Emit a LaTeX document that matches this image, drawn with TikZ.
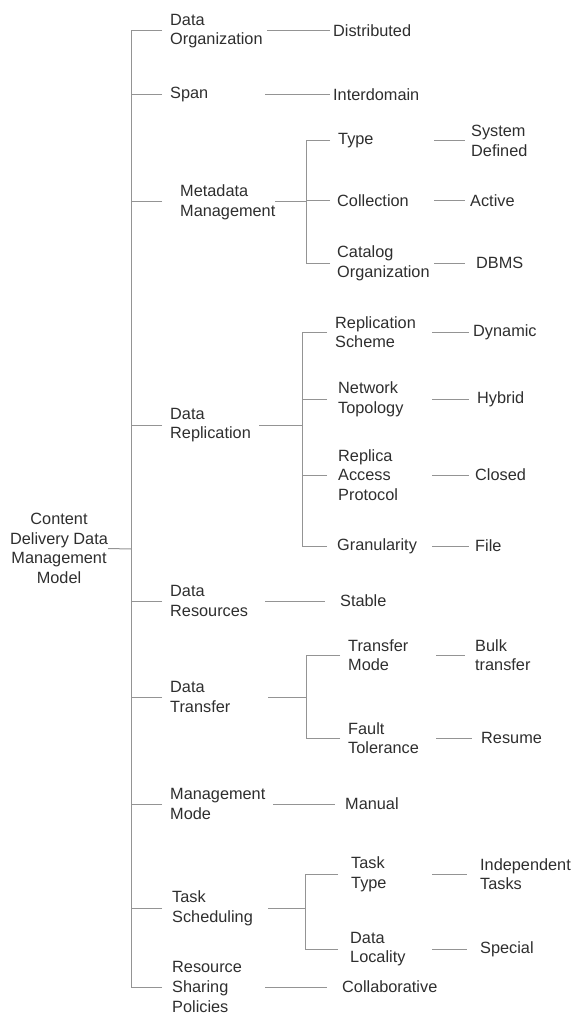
\documentclass[tikz,border=0pt]{standalone}
\usepackage{fontspec}
\setmainfont{Liberation Sans}
\begin{document}
\begin{tikzpicture}[x=1pt,y=-1pt,
  font=\fontsize{16.3}{19.6}\selectfont,
  every node/.style={text=black!82},
  conn/.style={draw=black!42, line width=1pt},
  box/.style 2 args={anchor=west, align=left, inner xsep=#1pt, inner ysep=0pt, text width=#2pt},
  leaf/.style={anchor=west, align=left, inner xsep=#1pt, inner ysep=0pt}]
\useasboundingbox (0,0) rectangle (574,1016);

% root
\node[align=center, inner sep=0pt] (root) at (59,548.5) {Content\\Delivery Data\\Management\\Model};
\coordinate (trunk) at (131,549);

% first level
\node[box={8}{89}]  (dorg)  at (162,31)  {Data\\Organization};
\node[box={8}{87}]  (span)  at (162,95)  {Span};
\node[box={18}{77}] (meta)  at (162,202) {Metadata\\Management};
\node[box={8}{81}]  (repl)  at (162,425) {Data\\Replication};
\node[box={8}{87}]  (dres)  at (162,601) {Data\\Resources};
\node[box={8}{90}]  (dtra)  at (162,697) {Data\\Transfer};
\node[box={8}{95}]  (mmode) at (162,804) {Management\\Mode};
\node[box={10}{86}] (tsch)  at (162,908) {Task\\Scheduling};
\node[box={10}{83}] (rsp)   at (162,987) {Resource\\Sharing\\Policies};

% leaves of the first level
\node[leaf=3]  (dist)   at (330,31)  {Distributed};
\node[leaf=3]  (inter)  at (330,95)  {Interdomain};
\node[leaf=15] (stable) at (325,601) {Stable};
\node[leaf=10] (manual) at (335,804) {Manual};
\node[leaf=15] (collab) at (327,987) {Collaborative};

% metadata management
\coordinate (metaj) at (306,202);
\node[box={8}{88}] (type)    at (330,141) {Type};
\node[box={7}{90}] (coll)    at (330,201) {Collection};
\node[box={7}{90}] (catalog) at (330,263) {Catalog\\Organization};
\node[leaf=6]  (sysdef) at (465,141) {System\\Defined};
\node[leaf=5]  (active) at (465,201) {Active};
\node[leaf=11] (dbms)   at (465,263) {DBMS};

% data replication
\coordinate (replj) at (302,425);
\node[box={8}{89}]  (rscheme) at (327,332) {Replication\\Scheme};
\node[box={11}{83}] (ntop)    at (327,399) {Network\\Topology};
\node[box={11}{83}] (rap)     at (327,475) {Replica\\Access\\Protocol};
\node[box={10}{85}] (gran)    at (327,546) {Granularity};
\node[leaf=4] (dyn)    at (469,332) {Dynamic};
\node[leaf=8] (hybrid) at (469,399) {Hybrid};
\node[leaf=6] (closed) at (469,475) {Closed};
\node[leaf=6] (file)   at (469,546) {File};

% data transfer
\coordinate (traj) at (306,697);
\node[box={8}{80}] (tmode) at (340,655) {Transfer\\Mode};
\node[box={8}{80}] (fault) at (340,738) {Fault\\Tolerance};
\node[leaf=10] (bulk)   at (465,655) {Bulk\\transfer};
\node[leaf=9]  (resume) at (472,738) {Resume};

% task scheduling
\coordinate (taskj) at (305,908);
\node[box={13}{68}] (ttype) at (338,874) {Task\\Type};
\node[box={12}{70}] (dloc)  at (338,949) {Data\\Locality};
\node[leaf=13] (indep)   at (467,874) {Independent\\Tasks};
\node[leaf=13] (special) at (467,949) {Special};

% connectors: main trunk
\draw[conn] (root.east) -- (trunk);
\foreach \n in {dorg,span,meta,repl,dres,dtra,mmode,tsch,rsp}
  \draw[conn] (\n.west) -| (trunk);

% connectors: first level to leaves and junctions
\draw[conn] (dorg.east) -- (dist.west);
\draw[conn] (span.east) -- (inter.west);
\draw[conn] (dres.east) -- (stable.west);
\draw[conn] (mmode.east) -- (manual.west);
\draw[conn] (rsp.east) -- (collab.west);
\draw[conn] (meta.east) -- (metaj);
\draw[conn] (repl.east) -- (replj);
\draw[conn] (dtra.east) -- (traj);
\draw[conn] (tsch.east) -- (taskj);

% connectors: second level
\foreach \n in {type,coll,catalog} \draw[conn] (\n.west) -| (metaj);
\foreach \n in {rscheme,ntop,rap,gran} \draw[conn] (\n.west) -| (replj);
\foreach \n in {tmode,fault} \draw[conn] (\n.west) -| (traj);
\foreach \n in {ttype,dloc} \draw[conn] (\n.west) -| (taskj);

\draw[conn] (type.east) -- (sysdef.west);
\draw[conn] (coll.east) -- (active.west);
\draw[conn] (catalog.east) -- (dbms.west);
\draw[conn] (rscheme.east) -- (dyn.west);
\draw[conn] (ntop.east) -- (hybrid.west);
\draw[conn] (rap.east) -- (closed.west);
\draw[conn] (gran.east) -- (file.west);
\draw[conn] (tmode.east) -- (bulk.west);
\draw[conn] (fault.east) -- (resume.west);
\draw[conn] (ttype.east) -- (indep.west);
\draw[conn] (dloc.east) -- (special.west);
\end{tikzpicture}
\end{document}
